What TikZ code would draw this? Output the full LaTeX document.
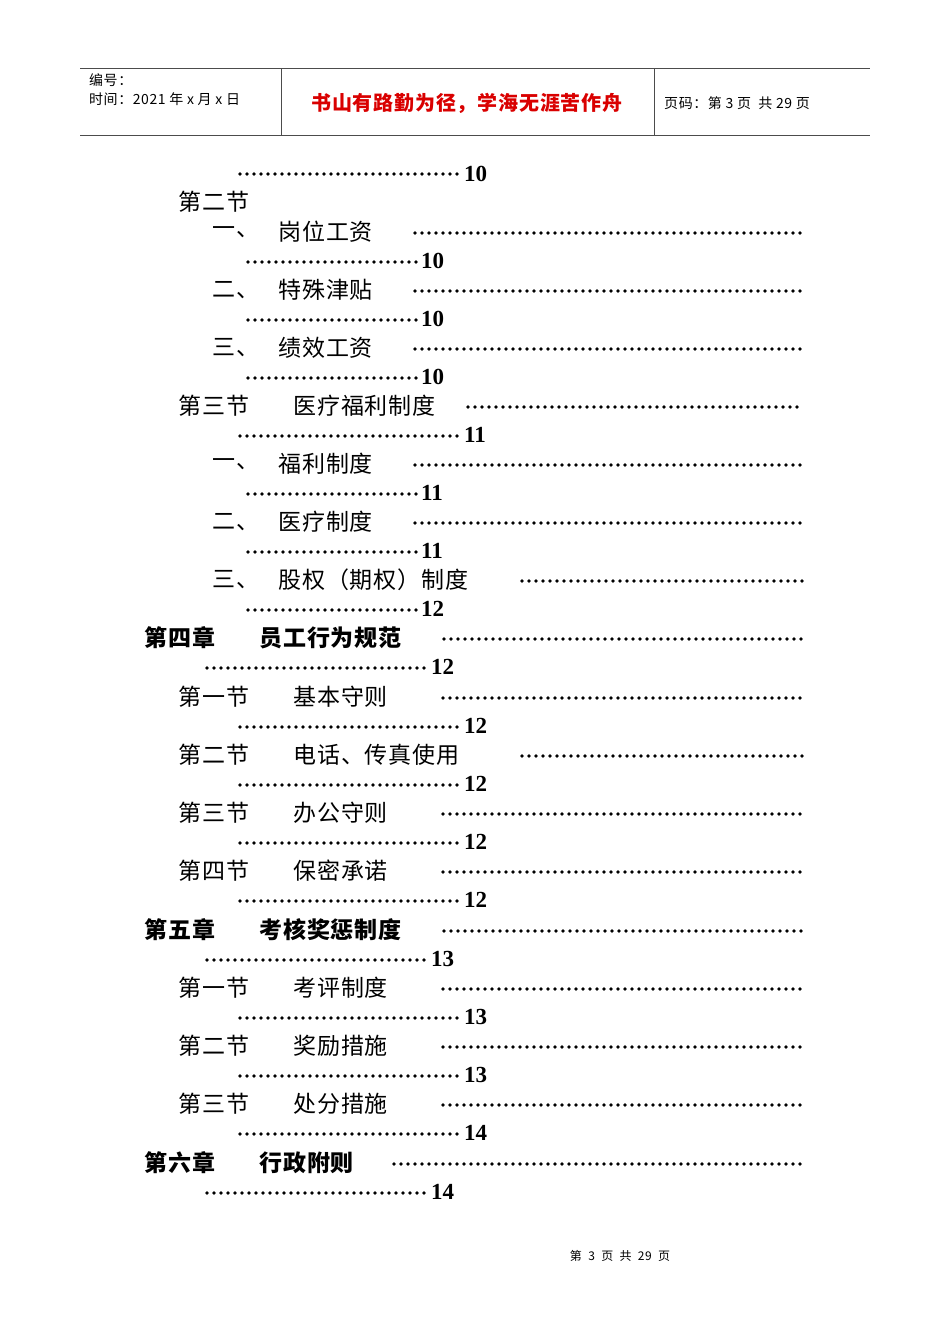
\documentclass[tikz,border=0pt]{standalone}
\usepackage{fontspec}
\newfontfamily\cjk{Noto Sans CJK SC}[LetterSpace=4]
\setmainfont{Liberation Serif}
\tikzset{txt/.style={anchor=west,inner sep=0pt,font=\cjk\fontsize{23}{23}\selectfont},
 bld/.style={txt,font=\cjk\bfseries\fontsize{23}{23}\selectfont},
 num/.style={anchor=west,inner sep=0pt,font=\bfseries\fontsize{23}{23}\selectfont},
 hdr/.style={anchor=west,inner sep=0pt,font=\cjk\fontsize{14}{14}\selectfont},
 rule/.style={line width=0.8pt,black!70}}
\newcommand{\dotrow}[3]{\pgfmathsetmacro\dsec{#1+7}\pgfmathsetmacro\dyy{#3}\foreach \xx in {#1,\dsec,...,#2}{\fill (\xx,\dyy) circle (1.9);}}
\begin{document}
\begin{tikzpicture}[x=1pt,y=-1pt]
\useasboundingbox (0,0) rectangle (950,1344);
\draw[rule] (80,68) -- (870,68);
\draw[rule] (80,135) -- (870,135);
\draw[rule] (281,68) -- (281,135);
\draw[rule] (654,68) -- (654,135);
\node[hdr] (h1) at (89,80) {编号：};
\node[hdr] (h2) at (89,99) {时间：2021 年 x 月 x 日};
\node[anchor=center,inner sep=0pt,text=red!85!black,font=\cjk\bfseries\fontsize{20}{20}\selectfont] (h3) at (467,103) {书山有路勤为径，学海无涯苦作舟};
\node[hdr] (h4) at (664,103) {页码：第 3 页\ \ 共 29 页};
\dotrow{240}{460}{174}
\node[num] (n0) at (464,174) {10};
\node[txt] (s2) at (178,202) {第二节};
\foreach \y/\lx/\lab/\tx/\ttl/\ds/\ss/\se/\nx/\nn/\st in {
 232/212/一、/278/岗位工资/415/248/418/421/10/txt,
 290/212/二、/278/特殊津贴/415/248/418/421/10/txt,
 348/212/三、/278/绩效工资/415/248/418/421/10/txt,
 406/178/第三节/293/医疗福利制度/468/240/460/464/11/txt,
 464/212/一、/278/福利制度/415/248/418/421/11/txt,
 522/212/二、/278/医疗制度/415/248/418/421/11/txt,
 580/212/三、/278/股权（期权）制度/522/248/418/421/12/txt,
 638/144/第四章/259/员工行为规范/444/207/427/431/12/bld,
 697/178/第一节/293/基本守则/443/240/460/464/12/txt,
 755/178/第二节/293/电话、传真使用/522/240/460/464/12/txt,
 813/178/第三节/293/办公守则/443/240/460/464/12/txt,
 871/178/第四节/293/保密承诺/443/240/460/464/12/txt,
 930/144/第五章/259/考核奖惩制度/444/207/427/431/13/bld,
 988/178/第一节/293/考评制度/443/240/460/464/13/txt,
 1046/178/第二节/293/奖励措施/443/240/460/464/13/txt,
 1104/178/第三节/293/处分措施/443/240/460/464/14/txt,
 1163/144/第六章/259/行政附则/394/207/427/431/14/bld}{
 \node[\st] at (\lx,\y) {\lab};
 \node[\st] at (\tx,\y) {\ttl};
 \dotrow{\ds}{803}{\y+1}
 \pgfmathsetmacro\yy{\y+29}
 \dotrow{\ss}{\se}{\yy+1}
 \node[num] at (\nx,\yy) {\nn};
}
\node[anchor=center,inner sep=0pt,font=\cjk\fontsize{12}{12}\selectfont] (ft) at (620,1256) {第\ \ 3\ \ 页\ \ 共\ \ 29\ \ 页};
\end{tikzpicture}
\end{document}
